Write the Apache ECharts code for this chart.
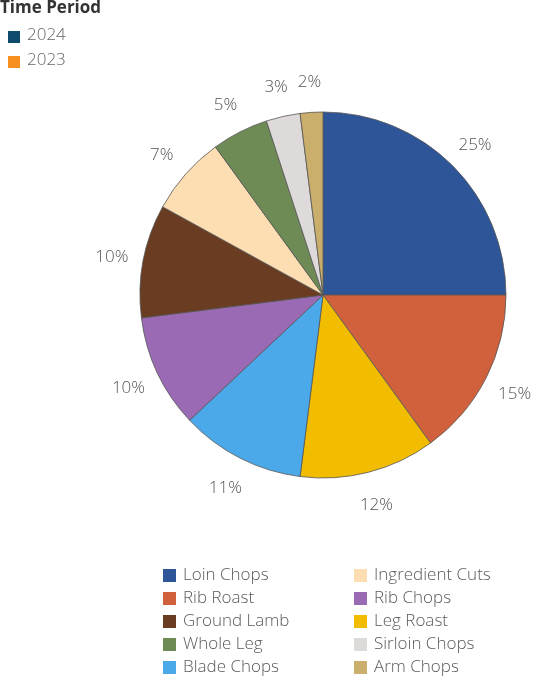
<!DOCTYPE html>
<html>
<head>
<meta charset="utf-8">
<script src="https://cdn.jsdelivr.net/npm/echarts@6/dist/echarts.min.js"></script>
<style>
  html, body { margin: 0; padding: 0; background: #fff; }
  #chart { width: 538px; height: 686px; }
</style>
</head>
<body>
<div id="chart"></div>
<script>
// Share of lamb sales by cut (percent), clockwise from 12 o'clock
const cuts = ['Loin Chops', 'Rib Roast', 'Leg Roast', 'Blade Chops', 'Rib Chops',
              'Ground Lamb', 'Ingredient Cuts', 'Whole Leg', 'Sirloin Chops', 'Arm Chops'];
const shares = [25, 15, 12, 11, 10, 10, 7, 5, 3, 2];
const cutColors = ['#2E5597', '#D1603D', '#F2BC00', '#4BA9E9', '#9A6BB4',
                   '#6A3D22', '#FDDDB2', '#6F8B55', '#DEDADA', '#C9AE6C'];

// Legend columns
const legendLeft = ['Loin Chops', 'Rib Roast', 'Ground Lamb', 'Whole Leg', 'Blade Chops'];
const legendRight = ['Ingredient Cuts', 'Rib Chops', 'Leg Roast', 'Sirloin Chops', 'Arm Chops'];

// Time period key
const periods = ['2024', '2023'];
const periodColors = ['#0E4A6B', '#F7901E'];

const FONT = '"Open Sans", Lato, sans-serif';

const chart = echarts.init(document.getElementById('chart'), null, { renderer: 'canvas' });

const pieData = cuts.map((name, i) => ({
  name,
  value: shares[i],
  itemStyle: { color: cutColors[i] }
}));

// Same slices on an invisible ring, used only to place the percent labels
const labelData = cuts.map((name, i) => ({ name, value: shares[i] }));

const legendCommon = {
  orient: 'vertical',
  padding: 0,
  height: 140,
  itemWidth: 13,
  itemHeight: 13,
  itemGap: 4,
  icon: 'rect',
  itemStyle: { borderWidth: 0 },
  textStyle: { fontFamily: FONT, fontSize: 17, color: '#5a5a5a', fontWeight: 300, lineHeight: 19, padding: [0, 0, 0, 2] },
  selectedMode: false
};

const periodGraphics = [
  { type: 'text', left: 0, top: 0,
    style: { text: 'Time Period', font: '700 17px ' + FONT, fill: '#333' } }
];
periods.forEach((p, i) => {
  periodGraphics.push({ type: 'rect', left: 8, top: 31 + i * 25,
    shape: { width: 12, height: 12 }, style: { fill: periodColors[i] } });
  periodGraphics.push({ type: 'text', left: 27, top: 27 + i * 25,
    style: { text: p, font: '300 17px ' + FONT, fill: '#666' } });
});

chart.setOption({
  animation: false,
  backgroundColor: '#fff',
  graphic: periodGraphics,
  legend: [
    Object.assign({ data: legendLeft, left: 163, top: 566 }, legendCommon),
    Object.assign({ data: legendRight, left: 354, top: 566 }, legendCommon)
  ],
  series: [{
    type: 'pie',
    center: [323, 295],
    radius: [0, 183],
    startAngle: 90,
    clockwise: true,
    data: pieData,
    itemStyle: { borderColor: '#555', borderWidth: 0.8 },
    label: { show: false },
    labelLine: { show: false },
    emphasis: { disabled: true }
  }, {
    type: 'pie',
    silent: true,
    center: [323, 295],
    radius: [202, 222],
    startAngle: 90,
    clockwise: true,
    data: labelData,
    itemStyle: { color: 'rgba(0,0,0,0)', borderWidth: 0 },
    label: {
      show: true,
      position: 'inside',
      formatter: '{d}%',
      fontFamily: FONT,
      fontSize: 17,
      fontWeight: 300,
      color: '#555',
      offset: [0, 2]
    },
    labelLine: { show: false },
    emphasis: { disabled: true }
  }]
});
</script>
</body>
</html>
